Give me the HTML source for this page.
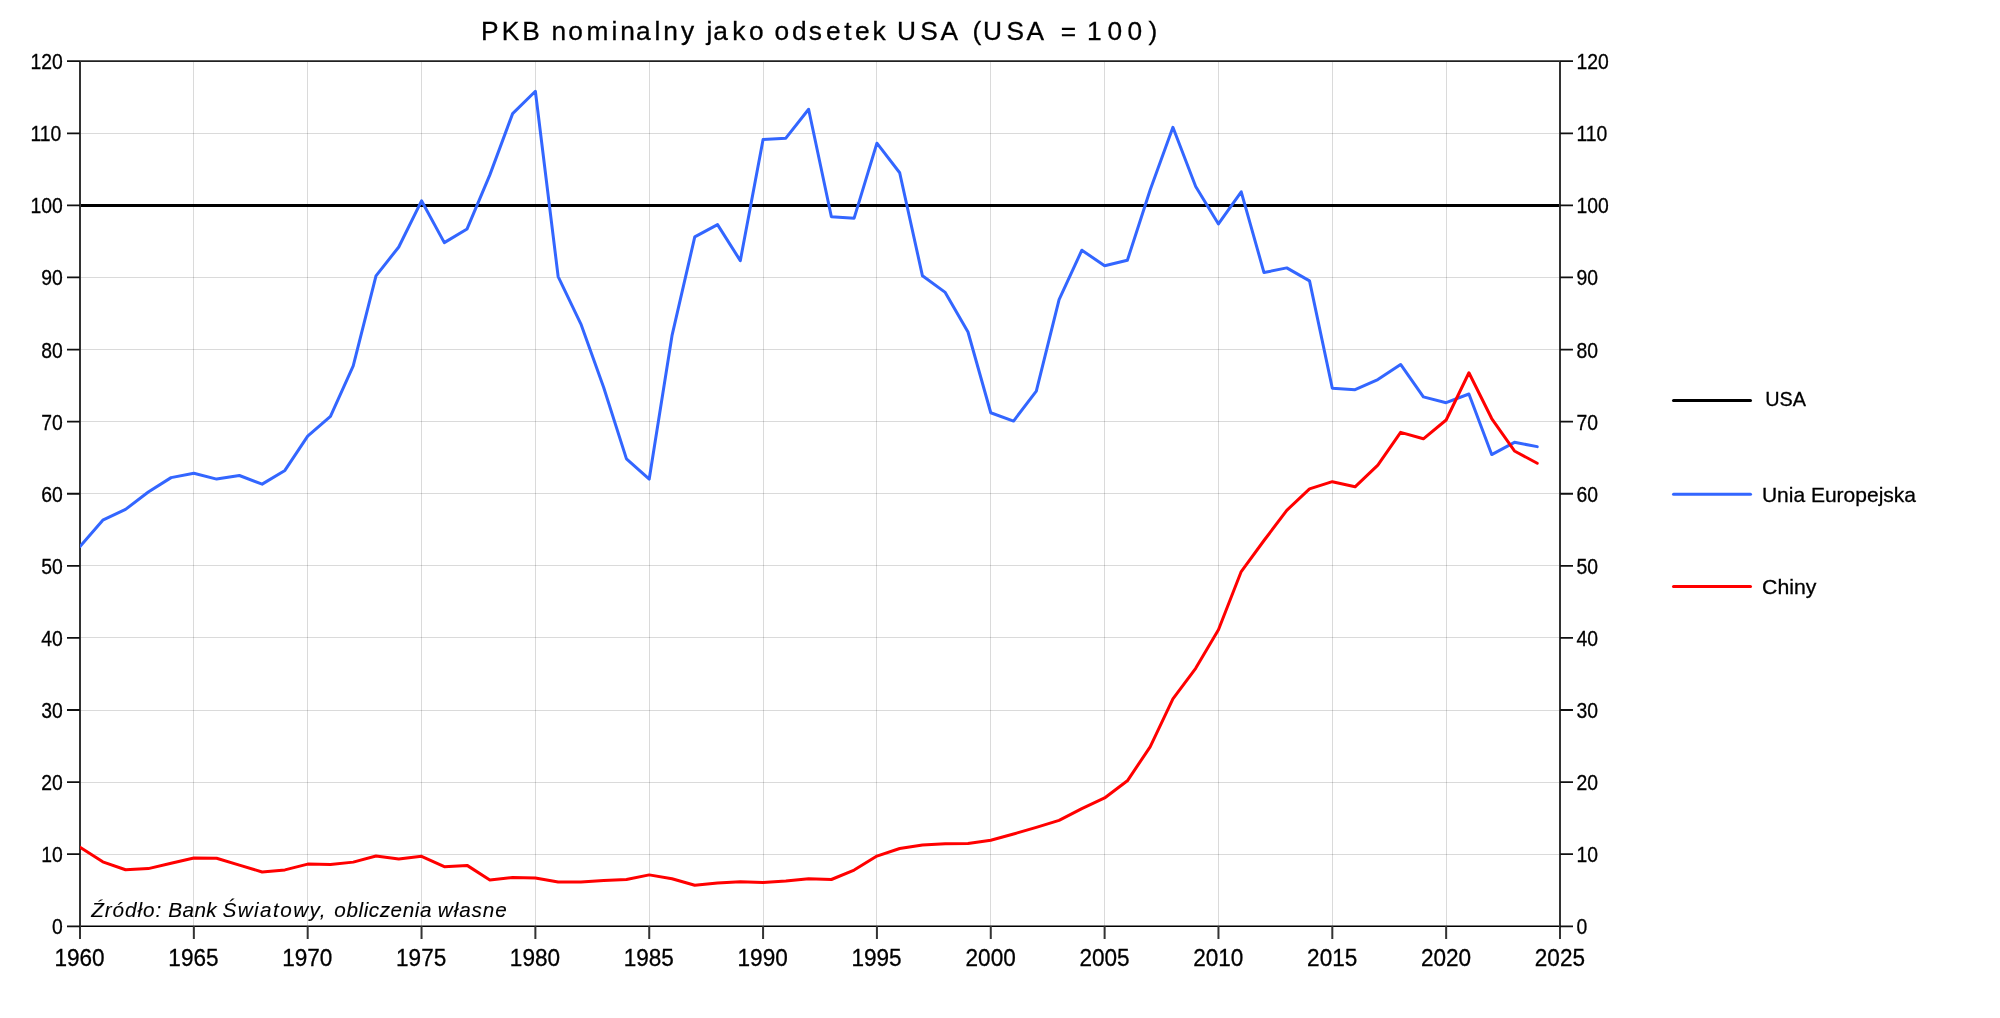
<!DOCTYPE html><html><head><meta charset="utf-8"><style>html,body{margin:0;padding:0;background:#fff;overflow:hidden}svg{display:block;will-change:transform}text{font-family:"Liberation Sans",sans-serif;stroke:#000;stroke-width:0.3px}</style></head><body>
<svg width="2000" height="1018" viewBox="0 0 2000 1018">
<rect width="2000" height="1018" fill="#fff"/>
<g stroke="#000" stroke-opacity="0.145" stroke-width="1" fill="none"><path d="M193.5,61.0V926.0"/><path d="M307.5,61.0V926.0"/><path d="M421.5,61.0V926.0"/><path d="M535.5,61.0V926.0"/><path d="M649.5,61.0V926.0"/><path d="M763.5,61.0V926.0"/><path d="M876.5,61.0V926.0"/><path d="M990.5,61.0V926.0"/><path d="M1104.5,61.0V926.0"/><path d="M1218.5,61.0V926.0"/><path d="M1332.5,61.0V926.0"/><path d="M1446.5,61.0V926.0"/><path d="M80.0,854.5H1560.0"/><path d="M80.0,782.5H1560.0"/><path d="M80.0,710.5H1560.0"/><path d="M80.0,637.5H1560.0"/><path d="M80.0,565.5H1560.0"/><path d="M80.0,493.5H1560.0"/><path d="M80.0,421.5H1560.0"/><path d="M80.0,349.5H1560.0"/><path d="M80.0,277.5H1560.0"/><path d="M80.0,205.5H1560.0"/><path d="M80.0,133.5H1560.0"/></g>
<path d="M80.0,205.4H1560.0" stroke="#000" stroke-width="3" fill="none"/>
<path d="M80.0,61.2H1560.0" stroke="#222" stroke-width="1.8" fill="none"/>
<path d="M80.0,926.3H1560.0" stroke="#000" stroke-width="1.6" fill="none"/>
<path d="M80.0,61.0V939M1560.0,61.0V939" stroke="#333" stroke-width="2" fill="none"/>
<path d="M67,926.30H80.0M1560.0,926.30H1573M67,854.21H80.0M1560.0,854.21H1573M67,782.12H80.0M1560.0,782.12H1573M67,710.02H80.0M1560.0,710.02H1573M67,637.93H80.0M1560.0,637.93H1573M67,565.84H80.0M1560.0,565.84H1573M67,493.75H80.0M1560.0,493.75H1573M67,421.66H80.0M1560.0,421.66H1573M67,349.57H80.0M1560.0,349.57H1573M67,277.47H80.0M1560.0,277.47H1573M67,205.38H80.0M1560.0,205.38H1573M67,133.29H80.0M1560.0,133.29H1573M67,61.20H80.0M1560.0,61.20H1573" stroke="#111" stroke-width="1.8" fill="none"/>
<path d="M193.85,926.0V939M307.69,926.0V939M421.54,926.0V939M535.38,926.0V939M649.23,926.0V939M763.08,926.0V939M876.92,926.0V939M990.77,926.0V939M1104.62,926.0V939M1218.46,926.0V939M1332.31,926.0V939M1446.15,926.0V939" stroke="#333" stroke-width="2" fill="none"/>
<defs><clipPath id="pc"><rect x="80" y="55" width="1480" height="871"/></clipPath></defs>
<g clip-path="url(#pc)">
<polyline points="80.00,546.48 102.77,520.17 125.54,509.36 148.31,492.06 171.08,477.64 193.85,473.32 216.62,479.08 239.38,475.48 262.15,484.13 284.92,470.43 307.69,436.19 330.46,416.37 353.23,365.91 376.00,275.81 398.77,246.98 421.54,200.84 444.31,242.65 467.08,228.95 489.85,174.89 512.62,113.62 535.38,91.27 558.15,276.53 580.92,324.10 603.69,387.54 626.46,458.90 649.23,479.08 672.00,335.64 694.77,236.88 717.54,224.63 740.31,260.67 763.08,139.57 785.85,138.13 808.62,109.30 831.38,216.70 854.15,218.14 876.92,143.17 899.69,172.73 922.46,275.81 945.23,292.39 968.00,332.03 990.77,412.77 1013.54,421.06 1036.31,391.14 1059.08,299.60 1081.85,250.22 1104.62,265.72 1127.38,260.31 1150.15,190.03 1172.92,127.32 1195.69,186.42 1218.46,223.91 1241.23,191.83 1264.00,272.56 1286.77,267.88 1309.54,280.85 1332.31,388.26 1355.08,389.70 1377.85,379.61 1400.62,364.47 1423.38,396.91 1446.15,402.68 1468.92,394.02 1491.69,454.57 1514.46,442.32 1537.23,446.65" fill="none" stroke="#3366ff" stroke-width="3" stroke-linejoin="round" stroke-linecap="round"/>
<polyline points="80.00,847.21 102.77,861.85 125.54,869.77 148.31,868.62 171.08,863.29 193.85,858.03 216.62,858.24 239.38,865.09 262.15,871.94 284.92,869.92 307.69,864.08 330.46,864.51 353.23,862.13 376.00,856.01 398.77,858.96 421.54,856.30 444.31,866.68 467.08,865.38 489.85,880.01 512.62,877.49 535.38,877.92 558.15,882.03 580.92,882.03 603.69,880.44 626.46,879.43 649.23,874.89 672.00,878.79 694.77,885.27 717.54,883.04 740.31,881.67 763.08,882.53 785.85,881.09 808.62,878.79 831.38,879.51 854.15,870.06 876.92,856.08 899.69,848.51 922.46,844.98 945.23,843.68 968.00,843.39 990.77,840.22 1013.54,834.02 1036.31,827.39 1059.08,820.40 1081.85,808.58 1104.62,797.98 1127.38,780.82 1150.15,746.80 1172.92,698.94 1195.69,668.30 1218.46,629.74 1241.23,571.57 1264.00,540.50 1286.77,510.30 1309.54,488.89 1332.31,481.68 1355.08,486.80 1377.85,465.10 1400.62,432.37 1423.38,438.79 1446.15,419.98 1468.92,372.76 1491.69,418.53 1514.46,450.97 1537.23,463.23" fill="none" stroke="#ff0000" stroke-width="3" stroke-linejoin="round" stroke-linecap="round"/>
</g>
<text transform="translate(51.99,934.30) scale(0.888,1)" font-size="21.8">0</text>
<text transform="translate(1576.53,934.30) scale(0.888,1)" font-size="21.8">0</text>
<text transform="translate(41.22,862.21) scale(0.888,1)" font-size="21.8">10</text>
<text transform="translate(1576.53,862.21) scale(0.888,1)" font-size="21.8">10</text>
<text transform="translate(41.22,790.12) scale(0.888,1)" font-size="21.8">20</text>
<text transform="translate(1576.53,790.12) scale(0.888,1)" font-size="21.8">20</text>
<text transform="translate(41.22,718.02) scale(0.888,1)" font-size="21.8">30</text>
<text transform="translate(1576.53,718.02) scale(0.888,1)" font-size="21.8">30</text>
<text transform="translate(41.22,645.93) scale(0.888,1)" font-size="21.8">40</text>
<text transform="translate(1576.53,645.93) scale(0.888,1)" font-size="21.8">40</text>
<text transform="translate(41.22,573.84) scale(0.888,1)" font-size="21.8">50</text>
<text transform="translate(1576.53,573.84) scale(0.888,1)" font-size="21.8">50</text>
<text transform="translate(41.22,501.75) scale(0.888,1)" font-size="21.8">60</text>
<text transform="translate(1576.53,501.75) scale(0.888,1)" font-size="21.8">60</text>
<text transform="translate(41.22,429.66) scale(0.888,1)" font-size="21.8">70</text>
<text transform="translate(1576.53,429.66) scale(0.888,1)" font-size="21.8">70</text>
<text transform="translate(41.22,357.57) scale(0.888,1)" font-size="21.8">80</text>
<text transform="translate(1576.53,357.57) scale(0.888,1)" font-size="21.8">80</text>
<text transform="translate(41.22,285.47) scale(0.888,1)" font-size="21.8">90</text>
<text transform="translate(1576.53,285.47) scale(0.888,1)" font-size="21.8">90</text>
<text transform="translate(30.46,213.38) scale(0.888,1)" font-size="21.8">100</text>
<text transform="translate(1576.53,213.38) scale(0.888,1)" font-size="21.8">100</text>
<text transform="translate(30.46,141.29) scale(0.888,1)" font-size="21.8">110</text>
<text transform="translate(1576.53,141.29) scale(0.888,1)" font-size="21.8">110</text>
<text transform="translate(30.46,69.20) scale(0.888,1)" font-size="21.8">120</text>
<text transform="translate(1576.53,69.20) scale(0.888,1)" font-size="21.8">120</text>
<text transform="translate(54.49,966) scale(0.94,1)" font-size="24.0">1960</text>
<text transform="translate(168.37,966) scale(0.94,1)" font-size="24.0">1965</text>
<text transform="translate(282.18,966) scale(0.94,1)" font-size="24.0">1970</text>
<text transform="translate(396.06,966) scale(0.94,1)" font-size="24.0">1975</text>
<text transform="translate(509.87,966) scale(0.94,1)" font-size="24.0">1980</text>
<text transform="translate(623.75,966) scale(0.94,1)" font-size="24.0">1985</text>
<text transform="translate(737.56,966) scale(0.94,1)" font-size="24.0">1990</text>
<text transform="translate(851.44,966) scale(0.94,1)" font-size="24.0">1995</text>
<text transform="translate(965.55,966) scale(0.94,1)" font-size="24.0">2000</text>
<text transform="translate(1079.43,966) scale(0.94,1)" font-size="24.0">2005</text>
<text transform="translate(1193.24,966) scale(0.94,1)" font-size="24.0">2010</text>
<text transform="translate(1307.12,966) scale(0.94,1)" font-size="24.0">2015</text>
<text transform="translate(1420.93,966) scale(0.94,1)" font-size="24.0">2020</text>
<text transform="translate(1534.81,966) scale(0.94,1)" font-size="24.0">2025</text>
<text x="481.09 501.80 522.34 551.42 568.19 586.54 611.58 620.17 635.88 654.57 663.17 680.92 706.54 713.13 732.27 748.94 774.44 791.98 808.78 825.96 844.24 854.96 872.52 897.00 920.24 940.48 972.38 983.00 1006.49 1026.48 1060.83 1087.08 1107.44 1127.44 1148.61" y="40" font-size="26.3">PKBnominalnyjakoodsetekUSA(USA=100)</text>
<g stroke-width="3" stroke-linecap="round" fill="none">
<path d="M1673.5,400.6H1750.5" stroke="#000"/>
<path d="M1673.5,494.3H1750.5" stroke="#3366ff"/>
<path d="M1673.5,586.5H1750.5" stroke="#ff0000"/>
</g>
<text transform="translate(1765.27,405.90) scale(0.9442,1)" font-size="21">USA</text>
<text transform="translate(1761.88,501.50) scale(1.0009,1)" font-size="21">Unia Europejska</text>
<text transform="translate(1762.12,594.30) scale(1.0118,1)" font-size="21">Chiny</text>
<text x="91.20" y="917" font-size="20.7" font-style="italic" letter-spacing="0.933" style="stroke-width:0.1px">Źródło:</text>
<text x="168.36" y="917" font-size="20.7" font-style="italic" letter-spacing="0.395" style="stroke-width:0.1px">Bank</text>
<text x="222.41" y="917" font-size="20.7" font-style="italic" letter-spacing="1.439" style="stroke-width:0.1px">Światowy,</text>
<text x="334.32" y="917" font-size="20.7" font-style="italic" letter-spacing="0.570" style="stroke-width:0.1px">obliczenia</text>
<text x="437.87" y="917" font-size="20.7" font-style="italic" letter-spacing="0.893" style="stroke-width:0.1px">własne</text>
</svg></body></html>
